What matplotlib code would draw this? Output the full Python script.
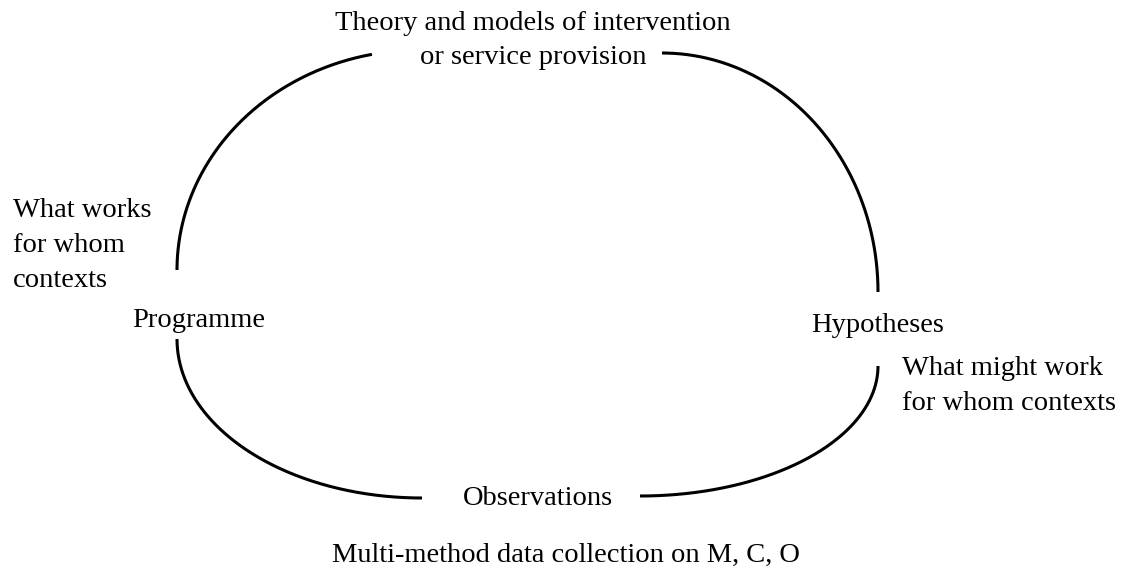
import numpy as np
import matplotlib
matplotlib.use("Agg")
import matplotlib.pyplot as plt

# arc segments of the loop: centre x, centre y, radius x, radius y, start angle, end angle (deg)
arc_cx = [420, 662, 422, 640]
arc_cy = [270, 292, 339, 366]
arc_rx = [243, 216, 245, 238]
arc_ry = [220, 239, 159, 130]
arc_a0 = [101.4, 0, 180, 270]
arc_a1 = [180, 90, 270, 360]

top_lines = ["Theory and models of intervention", "or service provision"]
left_lines = ["What works", "for whom", "contexts"]
right_lines = ["What might work", "for whom contexts"]
node_programme = "Programme"
node_hypotheses = "Hypotheses"
node_observations = "Observations"
bottom_note = "Multi-method data collection on M, C, O"


def main():
    W, H = 1122, 574
    fig = plt.figure(figsize=(W / 100, H / 100), dpi=100)
    ax = fig.add_axes([0, 0, 1, 1])
    ax.set_xlim(0, W)
    ax.set_ylim(H, 0)
    ax.axis("off")

    for cx, cy, rx, ry, a0, a1 in zip(arc_cx, arc_cy, arc_rx, arc_ry, arc_a0, arc_a1):
        t = np.radians(np.linspace(a0, a1, 200))
        ax.plot(cx + rx * np.cos(t), cy - ry * np.sin(t), color="black", lw=2.2,
                solid_capstyle="butt")

    font = dict(family="Liberation Serif", size=20.5, color="black", va="baseline")

    for i, line in enumerate(top_lines):
        ax.text(533, 30 + 34 * i, line, ha="center", **font)
    for i, line in enumerate(left_lines):
        ax.text(13, 217 + 35 * i, line, ha="left", **font)
    for i, line in enumerate(right_lines):
        ax.text(902, 375 + 35 * i, line, ha="left", **font)

    ax.text(132, 327, node_programme, ha="left", **font)
    ax.text(878, 332, node_hypotheses, ha="center", **font)
    ax.text(463, 505, node_observations, ha="left", **font)
    ax.text(566, 562, bottom_note, ha="center", **font)

    fig.savefig("out.png", dpi=100, facecolor="white")


if __name__ == "__main__":
    main()
